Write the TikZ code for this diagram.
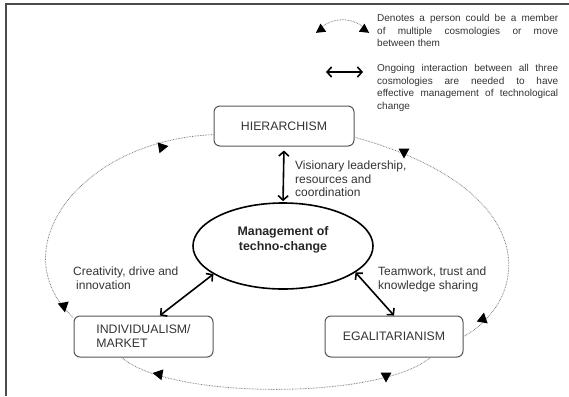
\documentclass[tikz,border=0pt]{standalone}
\usepackage{fontspec}
\setmainfont{Liberation Sans}
\usetikzlibrary{arrows.meta,shapes.geometric}
\definecolor{txt}{HTML}{333333}
\definecolor{framec}{HTML}{555555}
\definecolor{dotc}{HTML}{7A7A7A}
\newcommand{\arrtri}[3]{\fill[black, shift={(#1)}, rotate=#2, scale=#3] (5.5,0) -- (-4.5,5.5) -- (-4.5,-5.5) -- cycle;}
\tikzset{
  box/.style={draw=framec, line width=1pt, rounded corners=6pt, minimum width=139pt, minimum height=41pt,
    font=\fontsize{12.3}{14}\selectfont, text=txt, align=left, inner sep=0pt},
  link/.style={line width=1.6pt, {Straight Barb[length=4.5pt,width=10pt]}-{Straight Barb[length=4.5pt,width=10pt]}},
  loopline/.style={draw=dotc, line width=0.8pt, dash pattern=on 0.7pt off 0.9pt},
  lbl/.style={font=\fontsize{12}{13.5}\selectfont, text=txt, align=left, inner sep=0pt, anchor=north west},
  legendtxt/.style={font=\fontsize{10}{12.7}\selectfont, text=txt, align=left, inner sep=0pt, anchor=north west},
  mgmtshape/.style={draw=black, ellipse, line width=1.6pt, minimum width=180pt, minimum height=86pt, inner sep=0pt},
  mgmttext/.style={font=\fontsize{12.4}{15}\selectfont\bfseries, text=black!85, align=center, inner sep=0pt}
}
\begin{document}
\begin{tikzpicture}[x=1pt,y=-1pt]
\useasboundingbox (0,0) rectangle (569,396);
% frame
\draw[draw=black!70, line width=1.6pt] (6,396) -- (6,4) -- (569,4);

% legend
\coordinate (l1a) at (318,31);
\coordinate (l1b) at (367,31);
\draw[loopline] (l1a) .. controls (330,16) and (355,16) .. (l1b);
\arrtri{320,30}{215}{0.9}
\arrtri{365,30}{-35}{0.9}
\node[legendtxt] (leg1) at (377,14) {\makebox[181pt][s]{Denotes a person could be a member}\\
  \makebox[181pt][s]{of multiple cosmologies or move}\\between them};
\coordinate (l2a) at (326,72);
\coordinate (l2b) at (363,72);
\draw[link] (l2a) -- (l2b);
\node[legendtxt] (leg2) at (377,64) {\makebox[181pt][s]{Ongoing interaction between all three}\\
  \makebox[181pt][s]{cosmologies are needed to have}\\
  \makebox[181pt][s]{effective management of technological}\\change};

% main nodes
\node[box, minimum width=140pt, minimum height=40pt] (hier) at (284,126) {HIERARCHISM};
\node[box] (ind) at (143.5,336.5) {INDIVIDUALISM/\\MARKET};
\node[box, minimum width=138pt] (ega) at (394,336.5) {EGALITARIANISM};
\node[mgmtshape] (mgmt) at (283,246) {};
\node[mgmttext] (mgmtt) at (283,239.5) {Management of\\techno-change};

% dotted loop
\draw[loopline] (hier.187) .. controls (80,140) and (0,250) .. (ind.165);
\draw[loopline] (ind.224) .. controls (170,400) and (380,400) .. (ega.-30);
\draw[loopline] (ega.east) .. controls (530,300) and (545,190) .. (hier.-9);
\arrtri{163,147}{10}{1}
\arrtri{64,307}{-80}{1}
\arrtri{158,374}{170}{1}
\arrtri{386,377}{-90}{1}
\arrtri{483,318}{80}{1}
\arrtri{404,153}{-90}{1}

% interaction arrows
\draw[link, shorten <=4pt, shorten >=1pt] (hier.south) -- (mgmt.north);
\draw[link] (ind.52) -- (mgmt.202);
\draw[link] (ega.north) -- (mgmt.-20);

% labels
\node[lbl] (lv) at (295,161) {Visionary leadership,\\resources and\\coordination};
\node[lbl] (lc) at (73,267) {Creativity, drive and\\\hspace*{3pt}innovation};
\node[lbl] (lt) at (378,267) {Teamwork, trust and\\knowledge sharing};
\end{tikzpicture}
\end{document}
